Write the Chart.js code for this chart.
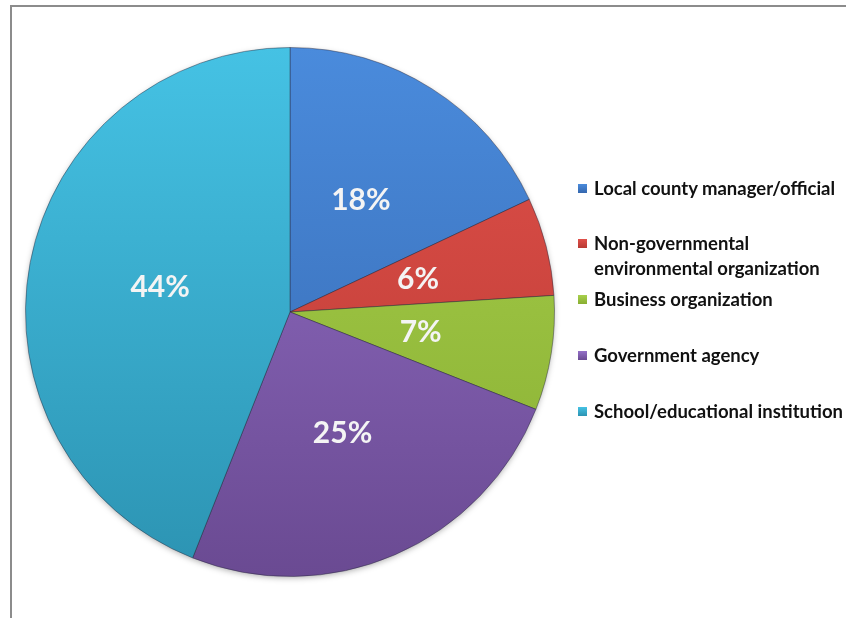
<!DOCTYPE html>
<html>
<head>
<meta charset="utf-8">
<script src="https://cdn.jsdelivr.net/npm/chart.js@4.4.1/dist/chart.umd.min.js"></script>
<style>
  html, body { margin: 0; padding: 0; background: #fff; }
  #wrap { position: relative; width: 846px; height: 618px; overflow: hidden; }
  #frame { position: absolute; left: 10px; top: 5px; width: 900px; height: 700px; border: 2px solid #8c8c8c; box-sizing: border-box; }
  #pie { position: absolute; left: 0; top: 0; }
  #legend { position: absolute; left: 578px; top: 0; font-family: Lato, "Open Sans", sans-serif; font-weight: bold; font-size: 18.5px; color: #111; }
  .item { position: absolute; left: 0; white-space: nowrap; line-height: 25px; }
  .item i { position: absolute; left: 0; top: 8px; width: 9px; height: 9px; }
  .item span { display: block; padding-left: 16px; }
</style>
</head>
<body>
<div id="wrap">
  <div id="frame"></div>
  <canvas id="pie" width="846" height="618"></canvas>
  <div id="legend"></div>
</div>
<script>
const categorias = [
  "Local county manager/official",
  "Non-governmental\nenvironmental organization",
  "Business organization",
  "Government agency",
  "School/educational institution"
];
const percentuais = [18, 6, 7, 25, 44];
const coresClaras = ["#4a8bdc", "#e0504a", "#a8d04c", "#9470c8", "#45c2e4"];
const coresEscuras = ["#3567ae", "#b83a33", "#88ae32", "#6a4a92", "#2c93b2"];
const legendaTopo = [176, 231, 287, 343, 399];

// gradiente vertical de cada fatia, do topo ao fundo da pizza
function corFatia(ctx) {
  const chart = ctx.chart;
  const area = chart.chartArea;
  if (!area) return coresClaras[ctx.dataIndex];
  const g = chart.ctx.createLinearGradient(0, area.top, 0, area.bottom);
  g.addColorStop(0, coresClaras[ctx.dataIndex]);
  g.addColorStop(1, coresEscuras[ctx.dataIndex]);
  return g;
}

// sombra embaixo da pizza
const sombra = {
  id: "sombra",
  beforeDatasetsDraw(chart) {
    const arc = chart.getDatasetMeta(0).data[0];
    if (!arc) return;
    const c = chart.ctx;
    c.save();
    c.shadowColor = "rgba(0,0,0,0.35)";
    c.shadowBlur = 6;
    c.shadowOffsetY = 2;
    c.fillStyle = "#666";
    c.beginPath();
    c.arc(arc.x, arc.y, arc.outerRadius - 1, 0, Math.PI * 2);
    c.fill();
    c.restore();
  }
};

// percentuais escritos dentro das fatias
const rotulos = {
  id: "rotulos",
  afterDatasetsDraw(chart) {
    const c = chart.ctx;
    const meta = chart.getDatasetMeta(0);
    c.save();
    c.font = "bold 30px Lato, 'Open Sans', sans-serif";
    c.fillStyle = "#f4f4f4";
    c.textAlign = "center";
    c.textBaseline = "middle";
    meta.data.forEach((arc, i) => {
      const meio = (arc.startAngle + arc.endAngle) / 2;
      const r = arc.outerRadius * 0.5;
      c.fillText(percentuais[i] + "%", arc.x + Math.cos(meio) * r, arc.y + Math.sin(meio) * r);
    });
    c.restore();
  }
};

new Chart(document.getElementById("pie"), {
  type: "pie",
  data: {
    labels: categorias,
    datasets: [{
      data: percentuais,
      backgroundColor: corFatia,
      borderColor: "rgba(40,40,60,0.45)",
      borderWidth: 1
    }]
  },
  options: {
    responsive: false,
    animation: false,
    layout: { padding: { left: 25, right: 291, top: 47, bottom: 41 } },
    plugins: { legend: { display: false }, tooltip: { enabled: false } }
  },
  plugins: [sombra, rotulos]
});

const legenda = document.getElementById("legend");
categorias.forEach((nome, i) => {
  const item = document.createElement("div");
  item.className = "item";
  item.style.top = legendaTopo[i] + "px";
  const quadrado = document.createElement("i");
  quadrado.style.background = "linear-gradient(" + coresClaras[i] + "," + coresEscuras[i] + ")";
  item.appendChild(quadrado);
  nome.split("\n").forEach(linha => {
    const s = document.createElement("span");
    s.textContent = linha;
    item.appendChild(s);
  });
  legenda.appendChild(item);
});
</script>
</body>
</html>
